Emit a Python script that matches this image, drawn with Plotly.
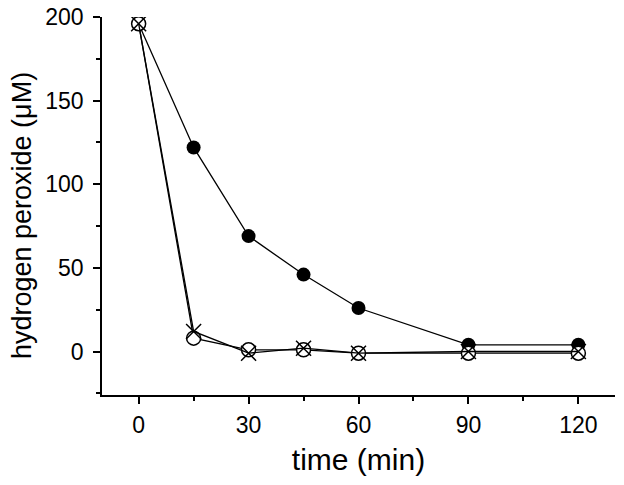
import plotly.graph_objects as go

time_min = [0, 15, 30, 45, 60, 90, 120]
filled = [196, 122, 69, 46, 26, 4, 4]
open_circ = [196, 8, 1, 1, -1, -1, -1]
cross = [196, 12, -1, 2, -1, 0, 0]

fig = go.Figure()
line = dict(color="black", width=1.3)
fig.add_trace(go.Scatter(x=time_min, y=filled, mode="lines+markers", line=line,
                         marker=dict(symbol="circle", size=14, color="black")))
fig.add_trace(go.Scatter(x=time_min, y=open_circ, mode="lines+markers", line=line,
                         marker=dict(symbol="circle", size=14, color="white",
                                     line=dict(width=1.5, color="black"))))
fig.add_trace(go.Scatter(x=time_min, y=cross, mode="lines+markers", line=line,
                         marker=dict(symbol="x-thin-open", size=15, color="black",
                                     line=dict(width=1.5, color="black"))))

font = "Liberation Sans, Arial, sans-serif"
fig.update_layout(
    width=624, height=485, showlegend=False,
    paper_bgcolor="white", plot_bgcolor="white",
    margin=dict(l=102, r=9, t=17, b=90),
    font=dict(family=font, color="black"),
    xaxis=dict(range=[-10, 130], tickvals=[0, 30, 60, 90, 120], showgrid=False,
               zeroline=False, showline=True, linecolor="black", linewidth=1.5,
               ticks="outside", ticklen=7, tickwidth=1.5, tickcolor="black",
               tickfont=dict(size=23), ticklabelstandoff=2, automargin=False,
               minor=dict(tickvals=[15, 45, 75, 105], ticks="outside",
                          ticklen=4, tickwidth=1.5, tickcolor="black"),
               title=dict(text="time (min)", font=dict(size=30), standoff=12)),
    yaxis=dict(range=[-26, 200], tickvals=[0, 50, 100, 150, 200], showgrid=False,
               zeroline=False, showline=True, linecolor="black", linewidth=1.5,
               ticks="outside", ticklen=7, tickwidth=1.5, tickcolor="black",
               tickfont=dict(size=23), ticklabelstandoff=5, automargin=False,
               minor=dict(tickvals=[-25, 25, 75, 125, 175], ticks="outside",
                          ticklen=4, tickwidth=1.5, tickcolor="black")),
    annotations=[dict(text="hydrogen peroxide (μM)", textangle=-90, showarrow=False,
                      xref="paper", yref="paper", x=-0.156, y=0.476,
                      xanchor="center", yanchor="middle", font=dict(size=27))],
)
fig.write_html("out.html", config={"displayModeBar": False},
               post_script="document.body.style.margin='0';")
